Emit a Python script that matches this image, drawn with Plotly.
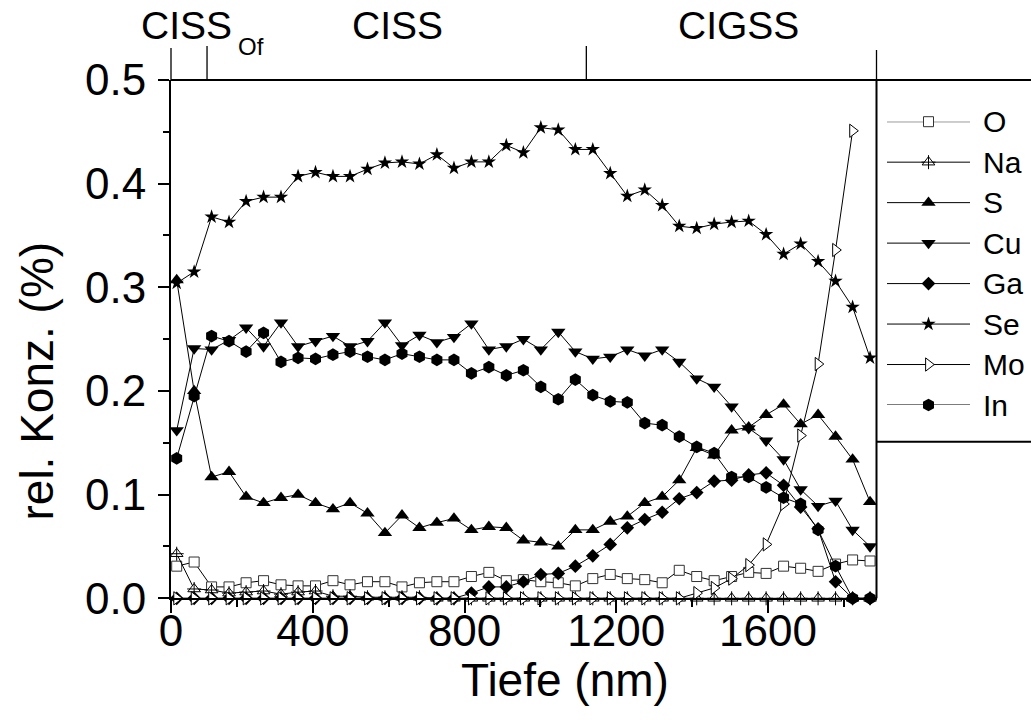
import plotly.graph_objects as go

# ---------------- data ----------------
depth_nm = [41, 87, 133, 179, 224, 270, 316, 361, 407, 453, 498, 544, 590, 635, 681,
            727, 772, 818, 864, 910, 955, 1001, 1047, 1092, 1138, 1184, 1229, 1275,
            1321, 1366, 1412, 1458, 1504, 1549, 1595, 1641, 1686, 1732, 1778, 1823, 1869]

O = [0.031, 0.035, 0.011, 0.011, 0.015, 0.017, 0.013, 0.012, 0.012, 0.017, 0.013,
     0.016, 0.016, 0.011, 0.015, 0.016, 0.016, 0.021, 0.025, 0.017, 0.018, 0.016,
     0.015, 0.012, 0.019, 0.023, 0.019, 0.018, 0.015, 0.027, 0.021, 0.017, 0.021,
     0.025, 0.024, 0.031, 0.029, 0.026, 0.033, 0.037, 0.036]
Na = [0.043, 0.009, 0.008, 0.005, 0.006, 0.007, 0.004, 0.006, 0.007, 0.002, 0.002,
      0.001, 0.001, 0.001, 0.001, 0.0, 0.0, 0.0, 0.0, 0.0, 0.0, 0.0, 0.0, 0.0, 0.0,
      0.0, 0.0, 0.0, 0.0, 0.0, 0.0, 0.0, 0.0, 0.0, 0.0, 0.0, 0.0, 0.0, 0.0, 0.0, 0.0]
S = [0.307, 0.200, 0.117, 0.122, 0.098, 0.092, 0.097, 0.100, 0.092, 0.086, 0.092,
     0.082, 0.063, 0.080, 0.068, 0.073, 0.077, 0.066, 0.069, 0.068, 0.056, 0.054,
     0.050, 0.066, 0.066, 0.074, 0.079, 0.092, 0.098, 0.114, 0.145, 0.138, 0.162,
     0.165, 0.177, 0.187, 0.168, 0.177, 0.156, 0.134, 0.093]
Cu = [0.162, 0.241, 0.240, 0.249, 0.261, 0.243, 0.266, 0.243, 0.248, 0.253, 0.243,
      0.248, 0.266, 0.244, 0.254, 0.247, 0.252, 0.265, 0.240, 0.243, 0.250, 0.240,
      0.257, 0.238, 0.231, 0.233, 0.240, 0.234, 0.240, 0.228, 0.212, 0.204, 0.185,
      0.164, 0.152, 0.134, 0.105, 0.089, 0.094, 0.066, 0.050]
Ga = [0.0, 0.0, 0.0, 0.0, 0.0, 0.0, 0.0, 0.0, 0.0, 0.0, 0.0, 0.0, 0.0, 0.0, 0.0,
      0.0, 0.0, 0.005, 0.011, 0.011, 0.016, 0.023, 0.024, 0.031, 0.041, 0.052,
      0.068, 0.076, 0.083, 0.096, 0.102, 0.113, 0.114, 0.119, 0.121, 0.109, 0.088,
      0.067, 0.016, 0.0, 0.0]
Se = [0.304, 0.315, 0.368, 0.363, 0.383, 0.387, 0.387, 0.407, 0.411, 0.407, 0.407,
      0.414, 0.420, 0.421, 0.419, 0.428, 0.415, 0.421, 0.421, 0.437, 0.430, 0.454,
      0.452, 0.433, 0.433, 0.410, 0.388, 0.394, 0.379, 0.359, 0.357, 0.361, 0.363,
      0.364, 0.351, 0.332, 0.342, 0.325, 0.306, 0.281, 0.232]
Mo = [0.0, 0.0, 0.0, 0.0, 0.0, 0.0, 0.0, 0.0, 0.0, 0.0, 0.0, 0.0, 0.0, 0.0, 0.0,
      0.0, 0.0, 0.0, 0.0, 0.0, 0.0, 0.0, 0.0, 0.0, 0.0, 0.0, 0.0, 0.0, 0.0, 0.0,
      0.005, 0.010, 0.019, 0.032, 0.052, 0.091, 0.157, 0.226, 0.336, 0.451, None]
In = [0.135, 0.195, 0.253, 0.248, 0.238, 0.256, 0.228, 0.232, 0.231, 0.235, 0.238,
      0.233, 0.230, 0.236, 0.233, 0.230, 0.230, 0.217, 0.223, 0.215, 0.220, 0.204,
      0.192, 0.211, 0.196, 0.190, 0.189, 0.169, 0.167, 0.156, 0.146, 0.140, 0.117,
      0.117, 0.107, 0.097, 0.091, 0.066, 0.031, 0.0, 0.0]

series_names = ["O", "Na", "S", "Cu", "Ga", "Se", "Mo", "In"]
series_values = [O, Na, S, Cu, Ga, Se, Mo, In]

x_tick_vals = [26, 400, 800, 1200, 1600]
x_tick_text = ["0", "400", "800", "1200", "1600"]
x_minor_vals = [200, 600, 1000, 1400, 1800]
y_tick_vals = [0.0, 0.1, 0.2, 0.3, 0.4, 0.5]
y_tick_text = ["0.0", "0.1", "0.2", "0.3", "0.4", "0.5"]
y_minor_vals = [0.05, 0.15, 0.25, 0.35, 0.45]

layer_bounds = [121, 1121]          # layer boundaries (nm) marked above the frame
layer_labels = ["CISS", "CISS", "CIGSS"]

# ---------------- styles ----------------
W, H = 1031, 720
FONT = "Liberation Sans, Arial, sans-serif"
BLACK = "black"

styles = {
    "O":  dict(symbol="square", size=10, color="white", line=dict(color="#333", width=1)),
    "Na": dict(symbol="triangle-up", size=11, color="white", line=dict(color=BLACK, width=1)),
    "S":  dict(symbol="triangle-up", size=12.5, color=BLACK, line=dict(color=BLACK, width=0)),
    "Cu": dict(symbol="triangle-down", size=12.5, color=BLACK, line=dict(color=BLACK, width=0)),
    "Ga": dict(symbol="diamond", size=10.5, color=BLACK, line=dict(color=BLACK, width=0)),
    "Se": dict(symbol="star", size=10.8, color=BLACK, line=dict(color=BLACK, width=0)),
    "Mo": dict(symbol="triangle-right", size=11.5, color="white", line=dict(color=BLACK, width=1)),
    "In": dict(symbol="hexagon", size=12.7, color=BLACK, line=dict(color=BLACK, width=0)),
}
na_cross = dict(symbol="cross-thin", size=10, color=BLACK, line=dict(color=BLACK, width=1))

def px_x(p):
    return p / W

def px_y(p):
    return 1 - p / H

fig = go.Figure()

for name, vals in zip(series_names, series_values):
    fig.add_trace(go.Scatter(
        x=depth_nm, y=vals, mode="lines+markers", name=name,
        line=dict(color=BLACK, width=1), marker=styles[name],
        cliponaxis=False, showlegend=False, xaxis="x", yaxis="y"))
    if name == "Na":
        fig.add_trace(go.Scatter(
            x=depth_nm, y=vals, mode="markers", marker=na_cross,
            cliponaxis=False, showlegend=False, xaxis="x", yaxis="y"))

# ---- manual legend (own small axis) ----
for row, name in enumerate(series_names):
    fig.add_trace(go.Scatter(x=[0, 1], y=[row, row], mode="lines",
                             line=dict(color=BLACK, width=1), showlegend=False,
                             cliponaxis=False, xaxis="x2", yaxis="y2"))
    fig.add_trace(go.Scatter(x=[0.5], y=[row], mode="markers", marker=styles[name],
                             showlegend=False, cliponaxis=False, xaxis="x2", yaxis="y2"))
    if name == "Na":
        fig.add_trace(go.Scatter(x=[0.5], y=[row], mode="markers", marker=na_cross,
                                 showlegend=False, cliponaxis=False, xaxis="x2", yaxis="y2"))

x_left, x_right = 171, 876.5
y_top, y_bot = 80, 598.3

axis_common = dict(showline=True, linecolor=BLACK, linewidth=2, showgrid=False,
                   zeroline=False, ticks="outside", tickcolor=BLACK, tickwidth=2,
                   tickfont=dict(family=FONT, size=44, color=BLACK), automargin=False)

fig.update_layout(
    width=W, height=H,
    margin=dict(l=0, r=0, t=0, b=0),
    paper_bgcolor="white", plot_bgcolor="white",
    font=dict(family=FONT, color=BLACK),
    xaxis=dict(domain=[px_x(x_left), px_x(x_right)], range=[26, 1886],
               tickmode="array", tickvals=x_tick_vals, ticktext=x_tick_text,
               ticklen=13, ticklabelstandoff=-20,
               minor=dict(tickmode="array", tickvals=x_minor_vals, ticklen=7,
                          ticks="outside", tickcolor=BLACK, tickwidth=2),
               anchor="y", **axis_common),
    yaxis=dict(domain=[px_y(y_bot), px_y(y_top)], range=[0, 0.5],
               tickmode="array", tickvals=y_tick_vals, ticktext=y_tick_text,
               ticklen=11, ticklabelstandoff=3,
               minor=dict(tickmode="array", tickvals=y_minor_vals, ticklen=6,
                          ticks="outside", tickcolor=BLACK, tickwidth=2),
               anchor="x", **axis_common),
    xaxis2=dict(domain=[px_x(887), px_x(970)], range=[0, 1], visible=False, anchor="y2"),
    yaxis2=dict(domain=[px_y(405), px_y(121.7)], range=[7, 0], visible=False, anchor="x2"),
)

shapes = [
    # top frame line continuing over legend
    dict(type="line", xref="paper", yref="paper", x0=px_x(x_left), x1=1.0,
         y0=px_y(y_top), y1=px_y(y_top), line=dict(color=BLACK, width=2)),
    # right frame line
    dict(type="line", xref="paper", yref="paper", x0=px_x(x_right), x1=px_x(x_right),
         y0=px_y(y_bot), y1=px_y(y_top), line=dict(color=BLACK, width=2)),
    dict(type="line", xref="paper", yref="paper", x0=px_x(x_right), x1=px_x(x_right),
         y0=px_y(y_top), y1=px_y(50), line=dict(color=BLACK, width=1.3)),
    # left frame extension
    dict(type="line", xref="paper", yref="paper", x0=px_x(x_left), x1=px_x(x_left),
         y0=px_y(y_top), y1=px_y(48), line=dict(color=BLACK, width=1.3)),
    # legend bottom border
    dict(type="line", xref="paper", yref="paper", x0=px_x(x_right), x1=1.0,
         y0=px_y(441.7), y1=px_y(441.7), line=dict(color=BLACK, width=2)),
]
for b in layer_bounds:
    shapes.append(dict(type="line", xref="x", yref="paper", x0=b, x1=b,
                       y0=px_y(y_top), y1=px_y(46), line=dict(color=BLACK, width=1.3)))
fig.update_layout(shapes=shapes)

ann = []
# layer labels
label_x = [186.5, 397.5, 738]
for lx, txt in zip(label_x, layer_labels):
    ann.append(dict(text=txt, x=px_x(lx), y=px_y(25.5), xref="paper", yref="paper",
                    xanchor="center", yanchor="middle", showarrow=False,
                    font=dict(family=FONT, size=39, color=BLACK)))
ann.append(dict(text="Of", x=px_x(250.5), y=px_y(46), xref="paper", yref="paper",
                xanchor="center", yanchor="middle", showarrow=False,
                font=dict(family=FONT, size=24, color=BLACK)))
# axis titles
ann.append(dict(text="Tiefe (nm)", x=px_x(565), y=px_y(680), xref="paper", yref="paper",
                xanchor="center", yanchor="middle", showarrow=False,
                font=dict(family=FONT, size=46, color=BLACK)))
ann.append(dict(text="rel. Konz. (%)", x=px_x(36), y=px_y(381.5), xref="paper",
                yref="paper", xanchor="center", yanchor="middle", showarrow=False,
                textangle=-90, font=dict(family=FONT, size=46, color=BLACK)))
# legend labels
for row, name in enumerate(series_names):
    ann.append(dict(text=name, x=px_x(981), y=row, xref="paper", yref="y2",
                    xanchor="left", yanchor="middle", showarrow=False,
                    font=dict(family=FONT, size=30, color=BLACK)))
fig.update_layout(annotations=ann)

fig.write_html("out.html", config={"displayModeBar": False},
               post_script="document.body.style.margin='0';document.body.style.overflow='hidden';")
